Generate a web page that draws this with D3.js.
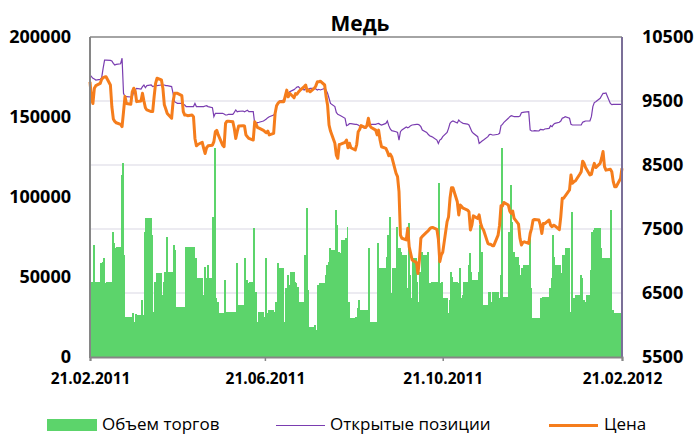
<!DOCTYPE html>
<html>
<head>
<meta charset="utf-8">
<script src="https://cdn.jsdelivr.net/npm/d3@7"></script>
<style>
  body { margin: 0; background: #fff; }
  svg text { font-family: "Open Sans", "DejaVu Sans", sans-serif; }
</style>
</head>
<body>
<div id="chart"></div>
<script>
// trading days from 21.02.2011 to 21.02.2012 (Mon-Fri)
var startDate = new Date(2011, 1, 21);
var endDate = new Date(2012, 1, 21);

// daily volume (left axis)
var volume = [
  20000, 47100, 70000, 47100, 46700, 58500, 59600, 61700, 46000, 47100,
  47100, 78300, 71000, 67900, 69000, 113700, 121000, 63700, 25200, 25200,
  25200, 27300, 22100, 26700, 26200, 35600, 26200, 78300, 86700, 86700,
  76200, 28300, 47100, 52300, 52300, 38700, 47100, 53300, 75200, 53300,
  53300, 70000, 66900, 31500, 31500, 31500, 31500, 69000, 69000, 69000,
  69000, 69000, 62100, 49200, 49200, 38700, 56500, 49200, 57500, 49200,
  87700, 130400, 36700, 34600, 27300, 27300, 48100, 28300, 28300, 28300,
  28300, 28300, 58500, 32500, 32500, 32500, 61700, 48100, 46000, 46700,
  80400, 40800, 22100, 28300, 28300, 25200, 61700, 27300, 29400, 29400,
  28300, 34600, 58500, 55400, 55400, 22100, 42900, 51200, 45000, 53300,
  47100, 46000, 44000, 34600, 34600, 63700, 92900, 41900, 19000, 19000,
  20000, 16900, 45000, 46000, 46000, 51200, 57500, 59600, 67900, 66900,
  91900, 82500, 65800, 64800, 73100, 74200, 81500, 34600, 24200, 24200,
  25200, 30400, 35600, 29400, 29400, 29400, 29400, 67900, 22100, 22100,
  22100, 71000, 55400, 55400, 55400, 62700, 76200, 87700, 39800, 55400,
  81500, 67900, 67900, 65800, 63700, 42900, 83500, 51200, 36700, 61700,
  47100, 34600, 53300, 65800, 63700, 65800, 46000, 46000, 47100, 47100,
  47100, 108500, 46000, 47100, 36700, 27300, 35600, 53300, 50200, 47100,
  46000, 55400, 36700, 38700, 47100, 57500, 64800, 53300, 48100, 48100,
  53300, 82500, 65800, 32500, 32500, 40800, 40800, 34600, 40800, 40800,
  36700, 51200, 130400, 37700, 37700, 78300, 107500, 84600, 65800, 62700,
  57500, 51200, 55400, 57500, 57500, 74200, 42900, 24200, 24200, 24200,
  24200, 36700, 37700, 37700, 37700, 42900, 49200, 76200, 62700, 57500,
  57500, 52300, 63700, 63700, 67900, 28300, 90800, 36700, 36700, 38700,
  51200, 49200, 35600, 34600, 38700, 54400, 78300, 79400, 80400, 80400,
  67900, 61700, 61700, 61700, 61700, 91900, 29400, 27300, 27300, 27300,
  27300, 30400
];

// open interest (left axis)
var openInterest = [
  176250, 175200, 174170, 173750, 173100, 173500, 174600, 180400, 185600, 185600,
  185400, 185000, 183500, 182500, 182900, 183300, 186700, 164800, 162700, 162700,
  162500, 162700, 165800, 166900, 167900, 167500, 169000, 170000, 168300, 169600,
  170000, 169000, 169400, 170000, 169600, 170000, 170000, 170000, 169600, 169600,
  169000, 164800, 159600, 159000, 158500, 158500, 157900, 157500, 156500, 156500,
  156500, 156500, 158500, 156500, 156500, 156500, 156500, 156900, 157100, 156500,
  155800, 150200, 152300, 152300, 152300, 152300, 151900, 151250, 151250, 151700,
  151700, 152900, 154400, 153300, 153500, 153750, 153300, 153750, 154200, 153300,
  153300, 146000, 146000, 146500, 146700, 147500, 148100, 148750, 149600, 150200,
  151250, 152300, 156500, 159000, 160000, 160600, 162100, 163300, 164400, 165800,
  167100, 167900, 168750, 169000, 167900, 166900, 167900, 166900, 167500, 167900,
  167900, 167500, 166900, 167300, 166900, 167900, 166900, 164800, 161700, 158500,
  156500, 152900, 151700, 151250, 150800, 149200, 144600, 145000, 145800, 145800,
  145400, 145400, 145000, 144400, 143750, 142900, 143950, 145000, 145000, 145400,
  145400, 145800, 146000, 145400, 145000, 146000, 147500, 144600, 142500, 141450,
  140800, 140400, 135600, 140800, 141900, 143750, 143300, 143750, 144600, 145000,
  145400, 145400, 145000, 143950, 141900, 140400, 139200, 138300, 137900, 137500,
  135600, 133500, 135600, 136250, 137700, 140400, 142900, 146000, 147100, 147500,
  146250, 148100, 147100, 146500, 146000, 145600, 145000, 142900, 140800, 139800,
  137700, 133500, 134200, 135000, 135600, 137700, 139000, 139200, 138750, 138750,
  139200, 139800, 144600, 145400, 146700, 149200, 150200, 150800, 150600, 150200,
  150200, 150600, 152700, 152900, 153100, 153300, 141900, 141250, 141250, 141450,
  141250, 142300, 142100, 141900, 142500, 142900, 144600, 143950, 145400, 146000,
  146700, 147500, 149200, 149600, 150200, 149200, 145400, 145000, 145000, 145000,
  145000, 145000, 146700, 147100, 147500, 147500, 150200, 156500, 159000, 159600,
  161700, 163300, 164800, 164800, 165000, 158500, 157700, 157900, 157900, 157900,
  157900, 157900
];

// price (right axis)
var price = [
  9800, 9540, 9460, 9700, 9740, 9775, 9840, 9865, 9875, 9880,
  9750, 9410, 9220, 9180, 9160, 9135, 9100, 9330, 9570, 9460,
  9450, 9645, 9700, 9655, 9490, 9500, 9620, 9500, 9395, 9360,
  9335, 9335, 9570, 9775, 9855, 9830, 9700, 9440, 9375, 9305,
  9230, 9490, 9620, 9620, 9620, 9585, 9335, 9280, 9280, 9270,
  9280, 9255, 8915, 8800, 8820, 8855, 8760, 8680, 8770, 8800,
  8810, 8865, 9020, 9040, 8970, 8810, 8785, 9150, 9185, 9185,
  9175, 9070, 8915, 9020, 9110, 9115, 9110, 8970, 8940, 8915,
  8890, 9175, 9135, 9085, 9075, 9040, 9020, 9005, 9030, 8970,
  8995, 9305, 9425, 9465, 9490, 9490, 9580, 9670, 9565, 9620,
  9550, 9615, 9605, 9640, 9665, 9725, 9750, 9655, 9670, 9645,
  9700, 9740, 9800, 9800, 9810, 9750, 9565, 9435, 9125, 9030,
  8840, 8655, 8605, 8820, 8825, 8855, 8890, 8770, 8840, 8770,
  8735, 8820, 9020, 9055, 9115, 9085, 9115, 9230, 9115, 9085,
  9045, 8970, 9045, 8890, 8785, 8760, 8710, 8645, 8670, 8630,
  8370, 8320, 8085, 7405, 7355, 7330, 7510, 7220, 7120, 7015,
  6975, 6805, 7015, 7355, 7385, 7450, 7470, 7500, 7520, 7525,
  7495, 7345, 6990, 7095, 7135, 7615, 7690, 7980, 8145, 8145,
  7925, 7720, 7875, 7850, 7825, 7795, 7770, 7485, 7560, 7705,
  7665, 7720, 7590, 7520, 7485, 7275, 7260, 7260, 7240, 7240,
  7405, 7560, 7865, 7860, 7915, 7875, 7780, 7745, 7780, 7665,
  7575, 7355, 7250, 7290, 7300, 7275, 7430, 7510, 7640, 7650,
  7640, 7560, 7430, 7585, 7585, 7640, 7560, 7535, 7560, 7550,
  7490, 7690, 7980, 7980, 8015, 8110, 8345, 8215, 8240, 8250,
  8355, 8395, 8560, 8525, 8460, 8345, 8355, 8450, 8525, 8460,
  8525, 8605, 8710, 8475, 8420, 8435, 8395, 8240, 8160, 8160,
  8290, 8450
];

var leftTicks = [0, 50000, 100000, 150000, 200000];
var rightTicks = [5500, 6500, 7500, 8500, 9500, 10500];
var xTickDates = [new Date(2011, 1, 21), new Date(2011, 5, 21), new Date(2011, 9, 21), new Date(2012, 1, 21)];

var seriesNames = ["Объем торгов", "Открытые позиции", "Цена"];

var dates = d3.timeDay.range(startDate, d3.timeDay.offset(endDate, 1))
  .filter(function(d) { return d.getDay() !== 0 && d.getDay() !== 6; });

var rows = dates.map(function(d, i) {
  return {date: d, next: dates[i + 1] || endDate, vol: volume[i], oi: openInterest[i], price: price[i]};
});

var width = 696, height = 434;
var plot = {left: 90, right: 622, top: 37, bottom: 357};

var svg = d3.select("#chart").append("svg")
  .attr("width", width)
  .attr("height", height);

var x = d3.scaleTime().domain([startDate, endDate]).range([plot.left, plot.right]);
var yLeft = d3.scaleLinear().domain([0, 200000]).range([plot.bottom, plot.top]);
var yRight = d3.scaleLinear().domain([5500, 10500]).range([plot.bottom, plot.top]);

// gridlines (secondary axis)
svg.append("g")
  .selectAll("line")
  .data(rightTicks.slice(1, -1))
  .enter().append("line")
    .attr("x1", plot.left).attr("x2", plot.right)
    .attr("y1", function(d) { return yRight(d); })
    .attr("y2", function(d) { return yRight(d); })
    .attr("stroke", "#d9d7e3")
    .attr("stroke-width", 1);

// volume columns
svg.append("g")
  .attr("shape-rendering", "crispEdges")
  .selectAll("rect")
  .data(rows)
  .enter().append("rect")
    .attr("x", function(d) { return x(d.date); })
    .attr("y", function(d) { return yLeft(d.vol); })
    .attr("width", function(d) { return Math.max(0, x(d.next) - x(d.date) + 0.5); })
    .attr("height", function(d) { return yLeft(0) - yLeft(d.vol); })
    .attr("fill", "#5cd46b");

// open interest line
svg.append("path")
  .datum(rows)
  .attr("fill", "none")
  .attr("stroke", "#7a3db0")
  .attr("stroke-width", 1.2)
  .attr("d", d3.line()
    .x(function(d) { return x(d.date); })
    .y(function(d) { return yLeft(d.oi); }));

// price line
svg.append("path")
  .datum(rows)
  .attr("fill", "none")
  .attr("stroke", "#f57d1c")
  .attr("stroke-width", 3)
  .attr("stroke-linejoin", "round")
  .attr("d", d3.line()
    .x(function(d) { return x(d.date); })
    .y(function(d) { return yRight(d.price); }));

// frame
svg.append("line")
  .attr("x1", plot.left).attr("x2", plot.right)
  .attr("y1", plot.top).attr("y2", plot.top)
  .attr("stroke", "#868686").attr("stroke-width", 1.5);
svg.append("line")
  .attr("x1", plot.left).attr("x2", plot.left)
  .attr("y1", plot.top).attr("y2", plot.bottom + 1)
  .attr("stroke", "#868686").attr("stroke-width", 2);
svg.append("line")
  .attr("x1", plot.right).attr("x2", plot.right)
  .attr("y1", plot.top).attr("y2", plot.bottom)
  .attr("stroke", "#7b6f98").attr("stroke-width", 2);

// x axis
var xAxis = svg.append("g")
  .attr("transform", "translate(0," + plot.bottom + ")")
  .call(d3.axisBottom(x).tickValues(xTickDates).tickSize(4).tickPadding(12)
    .tickFormat(d3.timeFormat("%d.%m.%Y")));
xAxis.select(".domain").attr("stroke", "#868686").attr("stroke-width", 2);
xAxis.selectAll(".tick line").attr("stroke", "#868686").attr("stroke-width", 1.5);
xAxis.selectAll("text")
  .attr("fill", "#000")
  .style("font-size", "15.5px")
  .style("font-weight", "bold");

// left axis
svg.append("g")
  .selectAll("text")
  .data(leftTicks)
  .enter().append("text")
    .attr("x", 71)
    .attr("y", function(d) { return yLeft(d); })
    .attr("dy", "0.35em")
    .attr("text-anchor", "end")
    .style("font-size", "18px")
    .style("font-weight", "bold")
    .text(function(d) { return d; });

// right axis
svg.append("g")
  .selectAll("text")
  .data(rightTicks)
  .enter().append("text")
    .attr("x", 642)
    .attr("y", function(d) { return yRight(d); })
    .attr("dy", "0.35em")
    .attr("text-anchor", "start")
    .style("font-size", "18px")
    .style("font-weight", "bold")
    .text(function(d) { return d; });

// title
svg.append("text")
  .attr("x", 360)
  .attr("y", 31)
  .attr("text-anchor", "middle")
  .style("font-size", "21px")
  .style("font-weight", "bold")
  .text("Медь");

// legend
var legend = svg.append("g");
legend.append("rect")
  .attr("x", 47).attr("y", 419).attr("width", 50).attr("height", 12)
  .attr("fill", "#5cd46b");
legend.append("line")
  .attr("x1", 276).attr("x2", 325).attr("y1", 425.5).attr("y2", 425.5)
  .attr("stroke", "#7a3db0").attr("stroke-width", 1.2);
legend.append("line")
  .attr("x1", 549).attr("x2", 598).attr("y1", 425.5).attr("y2", 425.5)
  .attr("stroke", "#f57d1c").attr("stroke-width", 3);
var legendX = [102, 330, 604];
legend.selectAll("text")
  .data(seriesNames)
  .enter().append("text")
    .attr("x", function(d, i) { return legendX[i]; })
    .attr("y", 430)
    .style("font-size", "17px")
    .text(function(d) { return d; });
</script>
</body>
</html>
